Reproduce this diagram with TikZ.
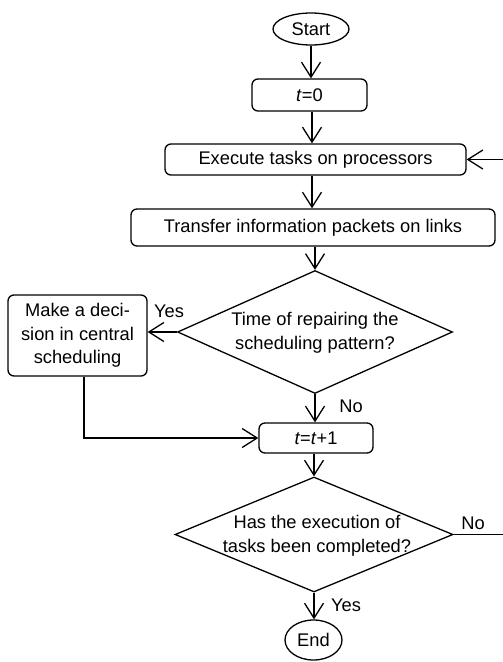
\documentclass[tikz,border=0pt]{standalone}
\usepackage{fontspec}
\setmainfont{Liberation Sans}
\usetikzlibrary{shapes.geometric,arrows.meta}
\begin{document}
\begin{tikzpicture}[x=1pt,y=-1pt,
  every node/.style={font=\fontsize{18.3}{23.5}\selectfont, inner sep=0pt},
  line/.style={line width=1.3pt},
  arr/.style={line width=1.3pt, -{Straight Barb[length=15pt,width=19pt]}},
  term/.style={draw, line width=1.3pt, ellipse},
  proc/.style={draw, line width=1.3pt, rounded corners=6pt, align=center},
  dia/.style={draw, line width=1.3pt, diamond},
  lbl/.style={}]
\useasboundingbox (0,0) rectangle (503,662);
\clip (0,0) rectangle (503,662);
\node[term, minimum width=76pt, minimum height=32pt] (start) at (311,29) {Start};
\node[proc, minimum width=115pt, minimum height=32pt] (t0) at (309.5,95) {\textit{t}=0};
\node[proc, minimum width=301pt, minimum height=31pt] (exec) at (315.5,159.5) {Execute tasks on processors};
\node[proc, minimum width=364pt, minimum height=37pt] (trans) at (313,227.5) {Transfer information packets on links};
\node[dia, minimum width=275pt, minimum height=123pt] (d1) at (315,332) {};
\node[align=center] (d1t) at (315,333) {Time of repairing the\\scheduling pattern?};
\node[proc, minimum width=139pt, minimum height=81pt] (dec) at (77.5,335.5) {Make a deci-\\sion in central\\scheduling};
\node[proc, minimum width=114pt, minimum height=30pt] (tinc) at (316,438) {\textit{t}=\textit{t}+1};
\node[dia, minimum width=278pt, minimum height=115pt] (d2) at (314,534.5) {};
\node[align=center] (d2t) at (317,536) {Has the execution of\\tasks been completed?};
\node[term, minimum width=57pt, minimum height=40pt] (end) at (313.5,640) {End};
\node[lbl] (yes1) at (169,311) {Yes};
\node[lbl] (no1) at (351,406) {No};
\node[lbl] (no2) at (473,523) {No};
\node[lbl] (yes2) at (346,605) {Yes};
\coordinate (c1) at (84,438);
\coordinate (far) at (520,534.5);
\draw[arr] (start.south) -- (start.south |- t0.north);
\draw[arr] (t0.south -| 312,0) -- (312,0 |- exec.north);
\draw[arr] (312,0 |- exec.south) -- (312,0 |- trans.north);
\draw[arr] (trans.south -| d1.north) -- (d1.north);
\draw[arr] (d1.west) -- (dec.east |- d1.west);
\draw[arr] (d1.south) -- (d1.south |- tinc.north);
\draw[arr] (dec.south -| c1) -- (c1) -- (tinc.west);
\draw[arr] (tinc.south -| d2.north) -- (d2.north);
\draw[arr] (d2.south) -- (d2.south |- end.north);
\draw[arr] (d2.east) -- (far) |- (exec.east);
\end{tikzpicture}
\end{document}
